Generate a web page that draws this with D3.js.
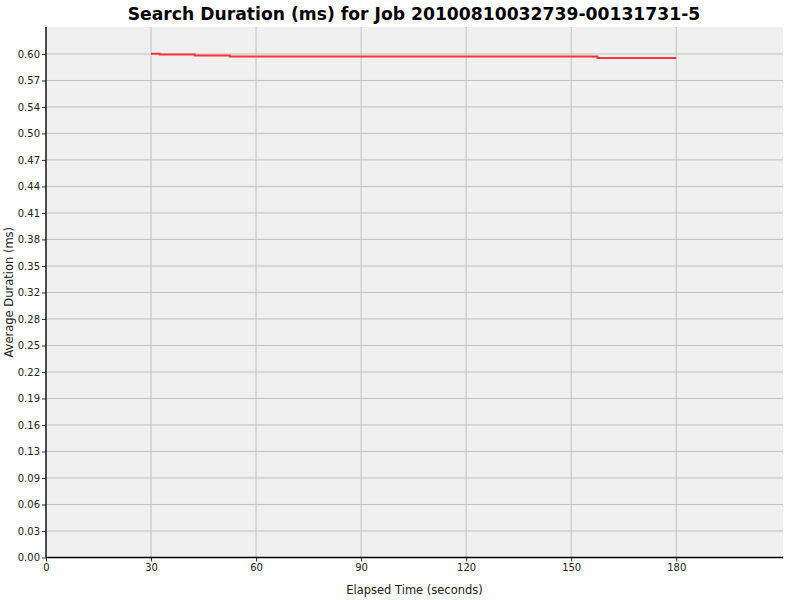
<!DOCTYPE html>
<html>
<head>
<meta charset="utf-8">
<script src="https://cdn.jsdelivr.net/npm/d3@7"></script>
<style>
  body { margin: 0; background: #fff; }
  text { font-family: "DejaVu Sans", sans-serif; }
</style>
</head>
<body>
<div id="chart"></div>
<script>
// data
var times = [30, 32.5, 42.5, 52.5, 157.5, 180];
var durations = [0.5992, 0.5983, 0.5971, 0.5960, 0.5942, 0.5942];
var xTicks = [0, 30, 60, 90, 120, 150, 180];
var yTicks = [0, 0.0315, 0.0631, 0.0946, 0.1261, 0.1577, 0.1892, 0.2207, 0.2522, 0.2838,
              0.3153, 0.3468, 0.3784, 0.4099, 0.4414, 0.4730, 0.5045, 0.5360, 0.5675, 0.5990];
var yTickLabels = ["0.00", "0.03", "0.06", "0.09", "0.13", "0.16", "0.19", "0.22", "0.25", "0.28",
                   "0.32", "0.35", "0.38", "0.41", "0.44", "0.47", "0.50", "0.54", "0.57", "0.60"];

(function () {
	var width = 800, height = 600;
	var plotLeft = 46, plotRight = 783, plotTop = 27, plotBottom = 557.5;

	var svg = d3.select("#chart").append("svg")
		.attr("width", width)
		.attr("height", height);

	var x = d3.scaleLinear().domain([0, 210.5]).range([plotLeft, plotRight]);
	var y = d3.scaleLinear().domain([0, 0.6311]).range([plotBottom, plotTop]);

	// plot background
	svg.append("rect")
		.attr("x", plotLeft)
		.attr("y", plotTop)
		.attr("width", plotRight - plotLeft)
		.attr("height", plotBottom - plotTop)
		.style("fill", "#f0f0f0");

	// grid lines
	svg.append("g").selectAll("line").data(xTicks).enter().append("line")
		.attr("x1", function (d) { return x(d); })
		.attr("x2", function (d) { return x(d); })
		.attr("y1", plotTop)
		.attr("y2", plotBottom)
		.style("stroke", "#c0c0c0")
		.style("stroke-width", 1);
	svg.append("g").selectAll("line").data(yTicks).enter().append("line")
		.attr("x1", plotLeft)
		.attr("x2", plotRight)
		.attr("y1", function (d) { return y(d); })
		.attr("y2", function (d) { return y(d); })
		.style("stroke", "#c0c0c0")
		.style("stroke-width", 1);

	// axes
	var xAxis = svg.append("g")
		.attr("transform", "translate(0," + plotBottom + ")")
		.call(d3.axisBottom(x).tickValues(xTicks).tickSize(4).tickPadding(2).tickFormat(d3.format("d")));
	var yAxis = svg.append("g")
		.attr("transform", "translate(" + plotLeft + ",0)")
		.call(d3.axisLeft(y).tickValues(yTicks).tickSize(4).tickPadding(2)
			.tickFormat(function (d, i) { return yTickLabels[i]; }));

	[xAxis, yAxis].forEach(function (a) {
		a.select(".domain").remove();
		a.selectAll("text")
			.style("font-family", "DejaVu Sans, sans-serif")
			.style("font-size", "10px")
			.style("fill", "#222");
		a.selectAll(".tick line").style("stroke", "#333");
	});
	svg.append("line")
		.attr("x1", plotLeft).attr("x2", plotRight)
		.attr("y1", plotBottom).attr("y2", plotBottom)
		.style("stroke", "#000").style("stroke-width", 1.3);
	svg.append("line")
		.attr("x1", plotLeft).attr("x2", plotLeft)
		.attr("y1", plotTop).attr("y2", plotBottom)
		.style("stroke", "#000").style("stroke-width", 1.3);

	// series
	var pts = times.map(function (t, i) { return [t, durations[i]]; });
	var line = d3.line()
		.x(function (d) { return x(d[0]); })
		.y(function (d) { return y(d[1]); })
		.curve(d3.curveStepAfter);
	svg.append("path")
		.datum(pts)
		.attr("d", line)
		.style("fill", "none")
		.style("stroke", "#ff3333")
		.style("stroke-width", 2);

	// titles
	svg.append("text")
		.attr("x", 414)
		.attr("y", 20)
		.attr("text-anchor", "middle")
		.style("font-size", "17.2px")
		.style("font-weight", "bold")
		.text("Search Duration (ms) for Job 20100810032739-00131731-5");

	svg.append("text")
		.attr("x", (plotLeft + plotRight) / 2)
		.attr("y", 594)
		.attr("text-anchor", "middle")
		.style("font-size", "11.5px")
		.style("fill", "#222")
		.text("Elapsed Time (seconds)");

	svg.append("text")
		.attr("transform", "translate(13," + ((plotTop + plotBottom) / 2) + ") rotate(-90)")
		.attr("text-anchor", "middle")
		.style("font-size", "11.5px")
		.style("fill", "#222")
		.text("Average Duration (ms)");
})();
</script>
</body>
</html>
